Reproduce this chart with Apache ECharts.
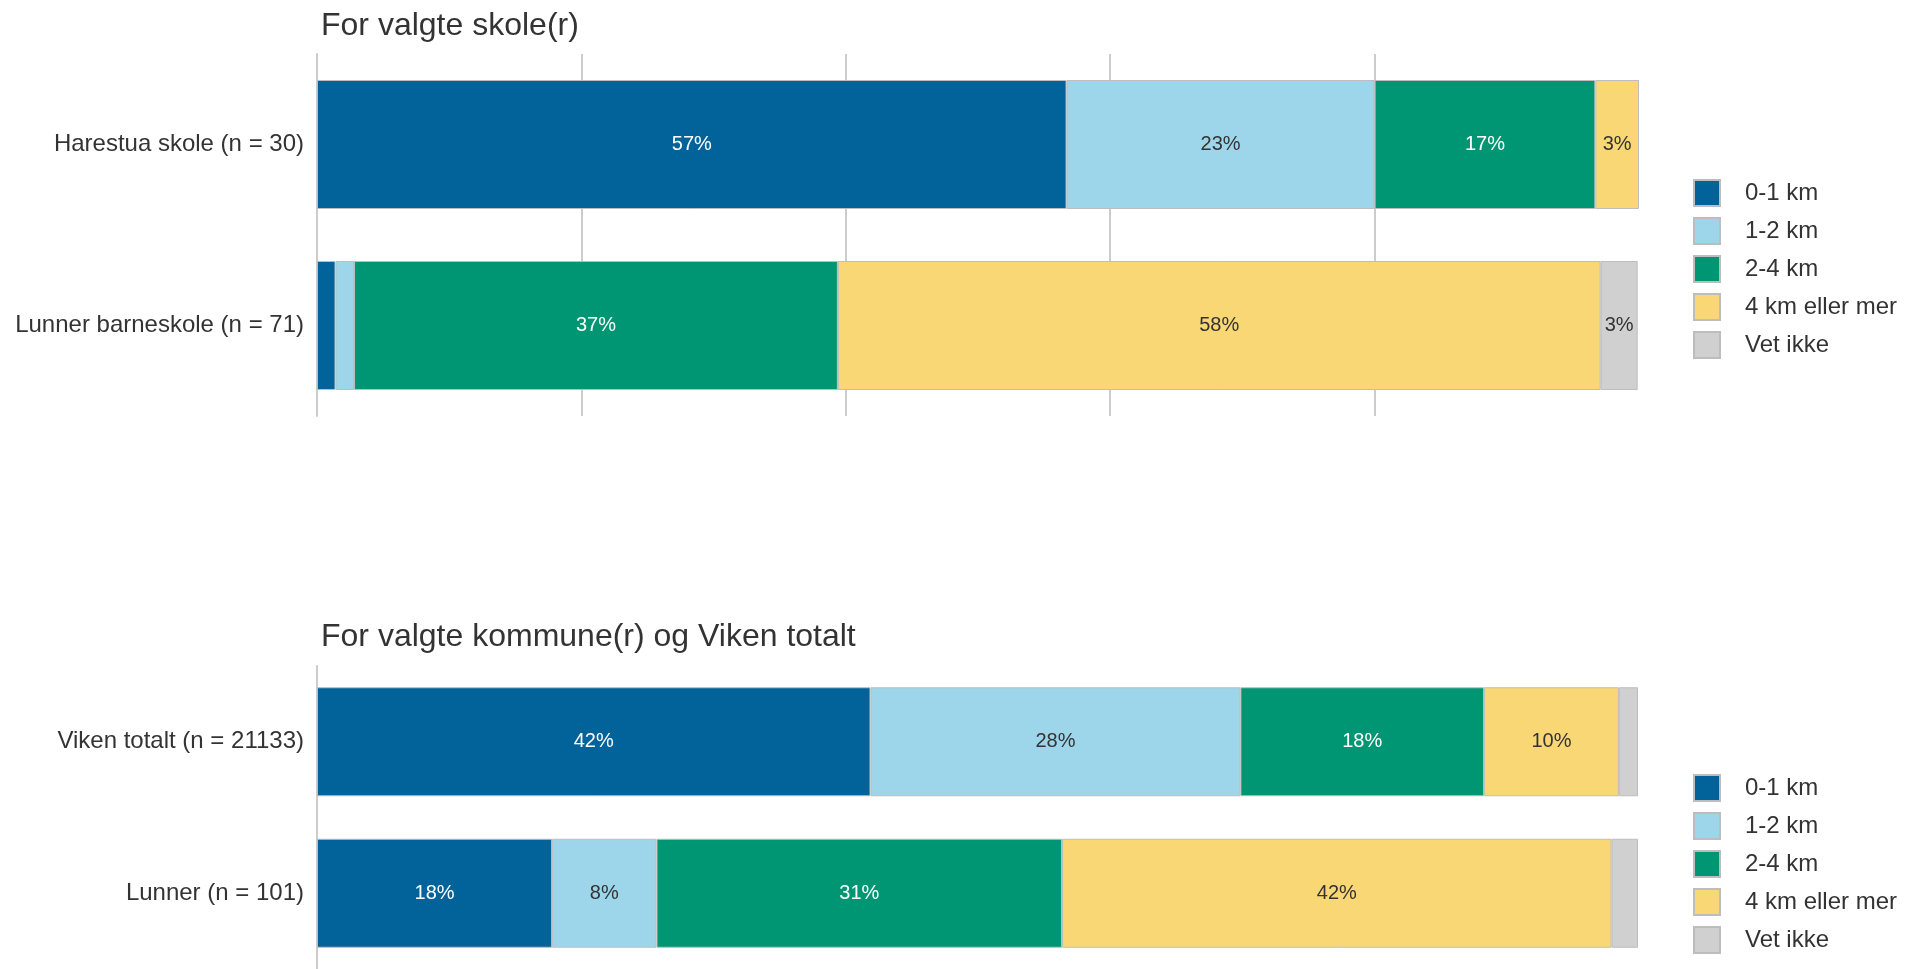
<!DOCTYPE html>
<html>
<head>
<meta charset="utf-8">
<script src="https://cdn.jsdelivr.net/npm/echarts@6/dist/echarts.min.js"></script>
<style>
html,body{margin:0;padding:0;background:#fff;}
#c{width:1905px;height:969px;}
</style>
</head>
<body>
<div id="c"></div>
<script>
// ---- data ----
var seriesNames = ['0-1 km', '1-2 km', '2-4 km', '4 km eller mer', 'Vet ikke'];
var seriesColors = ['#02629a', '#9dd6ea', '#009673', '#fad775', '#d0d0d0'];
var labelColors = ['#ffffff', '#333333', '#ffffff', '#333333', '#333333'];

var titleTop = 'For valgte skole(r)';
var titleBottom = 'For valgte kommune(r) og Viken totalt';

var schoolCategories = ['Harestua skole (n = 30)', 'Lunner barneskole (n = 71)'];
var school0to1 = [56.7, 1.4];
var school1to2 = [23.3, 1.4];
var school2to4 = [16.7, 36.6];
var school4plus = [3.3, 57.7];
var schoolUnknown = [null, 2.8];

var municipalCategories = ['Viken totalt (n = 21133)', 'Lunner (n = 101)'];
var muni0to1 = [41.9, 17.8];
var muni1to2 = [28.0, 7.9];
var muni2to4 = [18.45, 30.7];
var muni4plus = [10.2, 41.6];
var muniUnknown = [1.45, 2.0];

var schoolSeries = [school0to1, school1to2, school2to4, school4plus, schoolUnknown];
var muniSeries = [muni0to1, muni1to2, muni2to4, muni4plus, muniUnknown];

// ---- chart ----
var FONT = '"Liberation Sans", Arial, Helvetica, sans-serif';
var chart = echarts.init(document.getElementById('c'));

function makeSeries(dataArr, gridIdx, barW) {
  return dataArr.map(function (d, i) {
    return {
      name: seriesNames[i],
      type: 'bar',
      stack: 'g' + gridIdx,
      xAxisIndex: gridIdx,
      yAxisIndex: gridIdx,
      barWidth: barW,
      data: d,
      itemStyle: { color: seriesColors[i], borderColor: '#bdbdbd', borderWidth: 1 },
      emphasis: { disabled: true },
      label: {
        show: true,
        position: 'inside',
        fontFamily: FONT,
        fontSize: 20,
        color: labelColors[i],
        formatter: function (p) {
          if (p.value == null || p.value < 2.5) return '';
          return Math.round(p.value) + '%';
        }
      }
    };
  });
}

var legendCommon = {
  orient: 'vertical',
  left: 1688,
  height: 200,
  itemWidth: 26,
  itemHeight: 26,
  itemGap: 10,
  icon: 'rect',
  selectedMode: false,
  data: seriesNames,
  textStyle: { fontFamily: FONT, fontSize: 24, lineHeight: 24, color: '#333', padding: [0, 0, 0, 20] }
};

var option = {
  backgroundColor: '#fff',
  animation: false,
  title: [
    { text: titleTop, left: 316, top: 5, textStyle: { fontFamily: FONT, fontSize: 32, fontWeight: 'normal', color: '#333' } },
    { text: titleBottom, left: 316, top: 616, textStyle: { fontFamily: FONT, fontSize: 32, fontWeight: 'normal', color: '#333' } }
  ],
  legend: [
    Object.assign({}, legendCommon, { top: 174 }),
    Object.assign({}, legendCommon, { top: 769 })
  ],
  grid: [
    { left: 317, top: 54, width: 1322, height: 362 },
    { left: 317, top: 666, width: 1321, height: 308 }
  ],
  xAxis: [
    {
      gridIndex: 0, type: 'value', min: 0, max: 100, interval: 20,
      axisLabel: { show: false }, axisTick: { show: false }, axisLine: { show: false },
      splitLine: { show: true, lineStyle: { color: ['transparent', '#cccccc', '#cccccc', '#cccccc', '#cccccc', 'transparent'], width: 2 } }
    },
    {
      gridIndex: 1, type: 'value', min: 0, max: 100, interval: 20,
      axisLabel: { show: false }, axisTick: { show: false }, axisLine: { show: false },
      splitLine: { show: false }
    }
  ],
  yAxis: [
    {
      gridIndex: 0, type: 'category', inverse: true, data: schoolCategories,
      axisTick: { show: false },
      axisLine: { show: true, lineStyle: { color: '#cccccc', width: 2 } },
      axisLabel: { fontFamily: FONT, fontSize: 24, color: '#333', margin: 13 }
    },
    {
      gridIndex: 1, type: 'category', inverse: true, data: municipalCategories,
      axisTick: { show: false },
      axisLine: { show: true, lineStyle: { color: '#cccccc', width: 2 } },
      axisLabel: { fontFamily: FONT, fontSize: 24, color: '#333', margin: 13 }
    }
  ],
  series: makeSeries(schoolSeries, 0, 129).concat(makeSeries(muniSeries, 1, 109))
};

chart.setOption(option);
</script>
</body>
</html>
